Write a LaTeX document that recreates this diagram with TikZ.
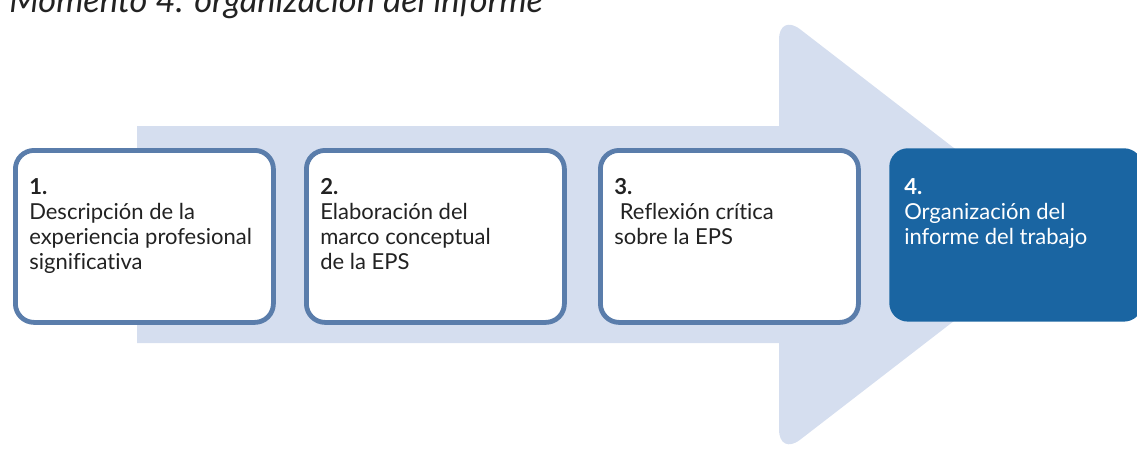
\documentclass[tikz,border=0pt]{standalone}
\usepackage{fontspec}
\setmainfont{Lato}[Ligatures=NoCommon]
\begin{document}
\begin{tikzpicture}[x=0.75pt,y=-0.75pt,
  stepbox/.style={draw=boxline,line width=3.6pt,fill=white,rounded corners=14pt,anchor=north west,inner sep=0pt,minimum width=193.5pt,minimum height=129pt},
  lastbox/.style={fill=boxdark,rounded corners=14pt,anchor=north west,inner sep=0pt,minimum width=190pt,minimum height=130pt},
  boxtext/.style={anchor=north west,align=left,inner sep=0pt,font=\fontsize{16.5pt}{18.8pt}\selectfont,text=textgray}]
\definecolor{arrowfill}{HTML}{D5DEEF}
\definecolor{boxline}{HTML}{5A7DAB}
\definecolor{boxdark}{HTML}{1A65A2}
\definecolor{textgray}{HTML}{222222}
\useasboundingbox (0,0) rectangle (1137,450);
\begin{scope}
\clip (0,0) rectangle (1137,450);
\fill[arrowfill] (137,126) -- (779,126) [rounded corners=20pt] -- (779,13) -- (1066,234.5) -- (779,456) [sharp corners] -- (779,343) -- (137,343) -- cycle;
\node[anchor=base west,inner sep=0pt,font=\fontsize{25.8pt}{28pt}\selectfont\itshape,text=textgray] (title) at (9,12) {Momento 4. organización del informe};
\node[stepbox] (b1) at (13,148) {};
\node[stepbox] (b2) at (304,148) {};
\node[stepbox] (b3) at (598,148) {};
\node[lastbox] (b4) at (889,148) {};
\node[boxtext] (t1) at (29,178) {\textbf{1.}\\Descripción de la\\experiencia profesional\\significativa};
\node[boxtext] (t2) at (320,178) {\textbf{2.}\\Elaboración del\\marco conceptual\\de la EPS};
\node[boxtext] (t3) at (614,178) {\textbf{3.}\\\ Reflexión crítica\\sobre la EPS};
\node[boxtext,text=white] (t4) at (904,178) {\textbf{4.}\\Organización del\\informe del trabajo};
\end{scope}
\end{tikzpicture}
\end{document}
